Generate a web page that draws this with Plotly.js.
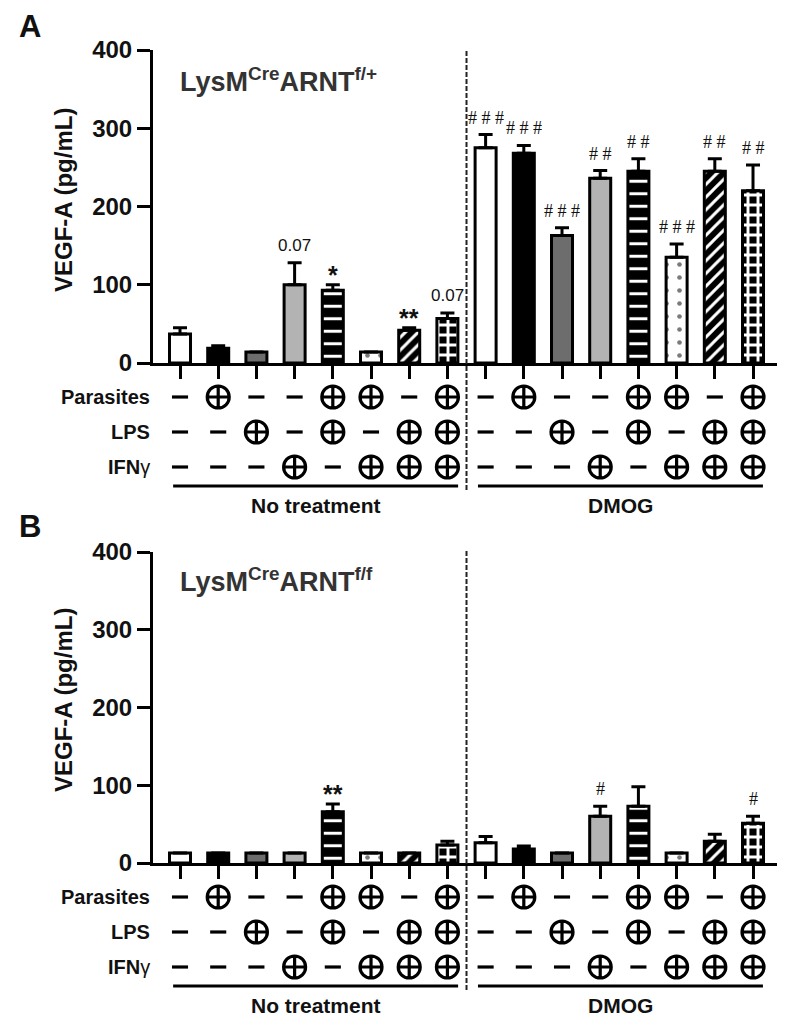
<!DOCTYPE html>
<html><head><meta charset="utf-8">
<script src="https://cdn.plot.ly/plotly-3.0.1.min.js"></script>
<style>html,body{margin:0;padding:0;background:#fff}</style>
</head><body><div id="chart" style="width:793px;height:1027px"></div>
<script>
// ---- data ----
const groupNames = ['No treatment', 'DMOG'];
const rowNames = ['Parasites', 'LPS', 'IFN<span style="font-weight:normal">γ</span>'];
const parasites = [0,1,0,0,1,1,0,1, 0,1,0,0,1,1,0,1];
const lps       = [0,0,1,0,1,0,1,1, 0,0,1,0,1,0,1,1];
const ifng      = [0,0,0,1,0,1,1,1, 0,0,0,1,0,1,1,1];
const titleA = 'LysM<sup>Cre</sup>ARNT<sup>f/+</sup>';
const titleB = 'LysM<sup>Cre</sup>ARNT<sup>f/f</sup>';
const meanA = [37,19,14,100,93,14,42,57, 275,268,163,236,245,135,245,220];
const topA  = [45,22,14,128,100,14,45,64, 292,278,173,246,261,152,261,253];
const sigA  = ['','','','0.07','*','','**','0.07','# # #','# # #','# # #','# #','# #','# # #','# #','# #'];
const meanB = [13,13,13,13,66,13,13,23, 26,18,13,60,73,13,28,51];
const topB  = [13,13,13,13,76,13,13,28, 34,22,13,73,98,13,37,60];
const sigB  = ['','','','','**','','','', '','','','#','','','','#'];
const yTicks = [0,100,200,300,400];

// ---- styles ----
const FONT = 'Liberation Sans, Arial, Helvetica, sans-serif';
const baseColor = ['#ffffff','#000000','#6d6d6d','#b3b3b3','#000000','#ffffff','#000000','#000000'];
const patShape  = ['','','','','-','.','/','+'];
const patFg     = ['#000000','#000000','#000000','#000000','#ffffff','#7a7a7a','#ffffff','#ffffff'];
const patSize   = [8,8,8,8,12.5,13,9,10];
const patSolid  = [0.3,0.3,0.3,0.3,0.24,0.1,0.33,0.5];
const H = 1027, W = 793;
const py = p => 1 - p / H;
const idx = meanA.map((_, i) => i);

function barTraces(mean, top, xa, ya) {
  const out = [];
  for (let s = 0; s < 8; s++) {
    const ids = idx.filter(i => i % 8 === s);
    const m = {color: baseColor[s], line: {color: '#000', width: 3}};
    if (patShape[s]) m.pattern = {shape: patShape[s], fgcolor: patFg[s], bgcolor: baseColor[s], fgopacity: 1,
                                  size: patSize[s], solidity: patSolid[s], fillmode: 'overlay'};
    out.push({
      type: 'bar', x: ids, y: ids.map(i => mean[i]), xaxis: xa, yaxis: ya, width: 0.55,
      marker: m,
      error_y: {type: 'data', symmetric: false, array: ids.map(i => top[i] - mean[i]),
                arrayminus: ids.map(() => 0), thickness: 3, width: 7, color: '#000'},
      hoverinfo: 'skip', showlegend: false
    });
  }
  return out;
}
function rowTrace(vals, row, xa, ya) {
  return {
    type: 'scatter', mode: 'markers', x: idx, y: vals.map(() => row), xaxis: xa, yaxis: ya,
    marker: {symbol: vals.map(v => v ? 'circle-cross-open' : 'line-ew'), opacity: 1,
             size: vals.map(v => v ? 22 : 11.5), color: '#000',
             line: {color: '#000', width: 3.2}},
    cliponaxis: false, hoverinfo: 'skip', showlegend: false
  };
}
const traces = [].concat(
  barTraces(meanA, topA, 'x', 'y'),
  barTraces(meanB, topB, 'x2', 'y2'),
  [rowTrace(parasites, 1, 'x3', 'y3'), rowTrace(lps, 2, 'x3', 'y3'), rowTrace(ifng, 3, 'x3', 'y3'),
   rowTrace(parasites, 1, 'x4', 'y4'), rowTrace(lps, 2, 'x4', 'y4'), rowTrace(ifng, 3, 'x4', 'y4')]
);

const xdom = [153 / W, 777 / W];
const xr = [-0.707, 15.628];
function xAxis(anchor, visible) {
  return visible ? {domain: xdom, range: xr, anchor: anchor, showline: true, linewidth: 3, linecolor: '#000',
    ticks: 'outside', ticklen: 13, tickwidth: 3, tickcolor: '#000', tickvals: idx,
    showticklabels: false, showgrid: false, zeroline: false, fixedrange: true}
    : {domain: xdom, range: xr, anchor: anchor, visible: false, fixedrange: true};
}
function yAxis(dom, anchor) {
  return {domain: dom, range: [0, 400], anchor: anchor,
    showline: true, linewidth: 3, linecolor: '#000', ticks: 'outside', ticklen: 13, tickwidth: 3,
    tickcolor: '#000', tickvals: yTicks, ticktext: yTicks.map(String),
    tickfont: {family: FONT, size: 24, color: '#111', weight: 'bold'},
    showgrid: false, zeroline: false, fixedrange: true};
}

const ann = [];
const shapes = [];
function addPanel(letter, yoff, title, xa, ya, top, sig) {
  ann.push({text: '<b>' + letter + '</b>', xref: 'paper', yref: 'paper', x: 30 / W, y: py(26 + yoff),
            xanchor: 'center', yanchor: 'middle', showarrow: false, font: {family: FONT, size: 31, color: '#111'}});
  ann.push({text: '<b>' + title + '</b>', xref: 'paper', yref: 'paper', x: 178 / W, y: py(80 + yoff),
            xanchor: 'left', yanchor: 'middle', showarrow: false, font: {family: FONT, size: 27, color: '#333'}});
  ann.push({text: '<b>VEGF-A (pg/mL)</b>', xref: 'paper', yref: 'paper', x: 63 / W, y: py(200 + yoff),
            textangle: -90, xanchor: 'center', yanchor: 'middle', showarrow: false,
            font: {family: FONT, size: 24, color: '#111'}});
  sig.forEach((s, i) => {
    if (!s) return;
    const star = s.indexOf('*') >= 0;
    const hash = s.indexOf('#') >= 0;
    ann.push({text: s, xref: xa, yref: ya, x: i, y: top[i], xanchor: 'center', yanchor: 'middle',
              yshift: star ? 10 : 17, showarrow: false,
              font: {family: hash ? 'Liberation Serif, serif' : FONT, size: star ? 25 : (hash ? 18 : 17),
                     color: '#111', weight: star ? 'bold' : 'normal'}});
  });
  rowNames.forEach((r, k) => {
    ann.push({text: r, xref: 'paper', yref: 'paper', x: 152 / W, y: py(397 + 35 * k + yoff),
              xanchor: 'right', yanchor: 'middle', showarrow: false,
              font: {family: FONT, size: 20, color: '#111', weight: 'bold'}});
  });
  const gx = [[-0.18, 7.28], [7.8, 15.26]];
  gx.forEach((g, k) => {
    shapes.push({type: 'line', xref: xa, yref: 'paper', x0: g[0], x1: g[1], y0: py(486 + yoff), y1: py(486 + yoff),
                 line: {color: '#000', width: 3}});
    ann.push({text: groupNames[k], xref: xa, yref: 'paper', x: (g[0] + g[1]) / 2, y: py(505 + yoff),
              xanchor: 'center', yanchor: 'middle', showarrow: false,
              font: {family: FONT, size: 21, color: '#111', weight: 'bold'}});
  });
  shapes.push({type: 'line', xref: xa, yref: 'paper', x0: 7.5, x1: 7.5, y0: py(490 + yoff), y1: py(51 + yoff),
               line: {color: '#222', width: 2, dash: '5px,2px'}});
}
addPanel('A', 0, titleA, 'x', 'y', topA, sigA);
addPanel('B', 500, titleB, 'x2', 'y2', topB, sigB);

const layout = {
  width: W, height: H, margin: {l: 0, r: 0, t: 0, b: 0}, paper_bgcolor: '#fff', plot_bgcolor: 'rgba(0,0,0,0)',
  showlegend: false, barmode: 'overlay',
  xaxis: xAxis('y', true), yaxis: yAxis([py(363), py(50)], 'x'),
  xaxis2: xAxis('y2', true), yaxis2: yAxis([py(863), py(552)], 'x2'),
  xaxis3: xAxis('y3', false), yaxis3: {domain: [py(484.5), py(379.5)], range: [3.5, 0.5], anchor: 'x3', visible: false, fixedrange: true},
  xaxis4: xAxis('y4', false), yaxis4: {domain: [py(984.5), py(879.5)], range: [3.5, 0.5], anchor: 'x4', visible: false, fixedrange: true},
  annotations: ann, shapes: shapes,
  font: {family: FONT, color: '#111'}
};
Plotly.newPlot('chart', traces, layout, {staticPlot: true, displayModeBar: false});
</script>
</body></html>
